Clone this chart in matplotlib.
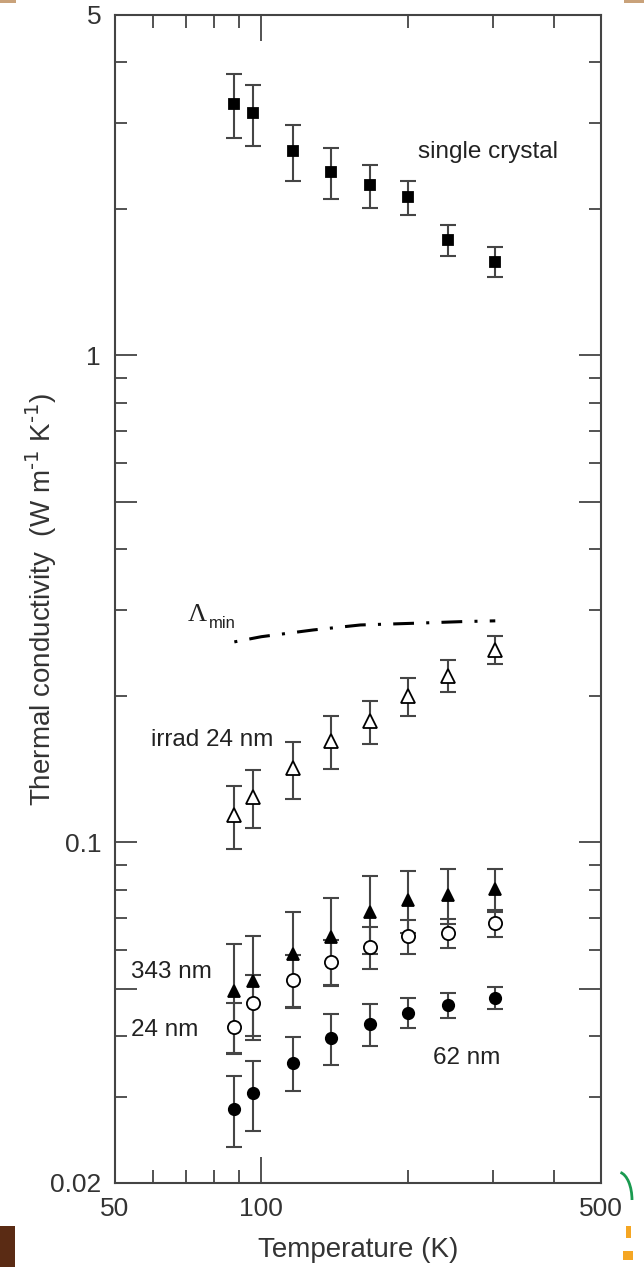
import matplotlib
matplotlib.use('Agg')
import matplotlib.pyplot as plt
from matplotlib.ticker import FixedLocator, FixedFormatter, NullFormatter
from matplotlib.patches import Rectangle, Arc

plt.rcParams['font.family'] = ['Liberation Sans', 'DejaVu Sans']
plt.rcParams['mathtext.default'] = 'regular'

# Measurement temperatures (K)
temperature = [88, 96, 116, 139, 167, 200, 242, 303]

# Thermal conductivity (W m^-1 K^-1) and uncertainties
k_single = [3.29, 3.14, 2.63, 2.38, 2.235, 2.11, 1.726, 1.557]
err_single = [0.50, 0.45, 0.345, 0.29, 0.225, 0.17, 0.125, 0.11]

k_irrad = [0.1138, 0.1241, 0.1419, 0.1617, 0.1775, 0.1998, 0.2199, 0.2484]
err_irrad = [0.017, 0.017, 0.019, 0.020, 0.018, 0.018, 0.0165, 0.0165]

k_343 = [0.0494, 0.0518, 0.0589, 0.0638, 0.0721, 0.0762, 0.0780, 0.0801]
err_343 = [0.0125, 0.0125, 0.013, 0.013, 0.013, 0.011, 0.010, 0.008]

k_24 = [0.0418, 0.0467, 0.0522, 0.0569, 0.0609, 0.0642, 0.0652, 0.0682]
err_24 = [0.005, 0.0066, 0.0065, 0.006, 0.006, 0.0052, 0.0045, 0.0043]

k_62 = [0.0284, 0.0305, 0.0353, 0.0397, 0.0424, 0.0447, 0.0463, 0.0480]
err_62 = [0.0047, 0.005, 0.0045, 0.0048, 0.0042, 0.0032, 0.0028, 0.0025]

# Minimum thermal conductivity curve
t_min = [88, 100, 128, 160, 205, 260, 303]
k_min = [0.258, 0.2644, 0.273, 0.2795, 0.2817, 0.284, 0.285]

W, H = 644, 1267
fig = plt.figure(figsize=(W / 100, H / 100), dpi=100)
ax = fig.add_axes([115 / W, 1 - 1182.7 / H, 486 / W, 1167.7 / H])
ax.set_xscale('log')
ax.set_yscale('log')
ax.set_xlim(50, 500)
ax.set_ylim(0.02, 5)

ebar = dict(fmt='none', ecolor='#454545', elinewidth=1.5, capsize=5.5,
            capthick=1.5, zorder=2)


def series(y, e, marker, ms, filled):
    ax.errorbar(temperature, y, yerr=e, **ebar)
    ax.plot(temperature, y, ls='none', marker=marker, ms=ms,
            mfc='black' if filled else 'white', mec='black', mew=1.3,
            zorder=3)


series(k_single, err_single, 's', 7.4, True)
series(k_irrad, err_irrad, '^', 9.5, False)
series(k_343, err_343, '^', 9.0, True)
series(k_24, err_24, 'o', 9.5, False)
series(k_62, err_62, 'o', 8.2, True)

ax.plot(t_min, k_min, color='black', lw=2.2,
        ls=(10.8, (6.8, 4.0, 1.0, 4.0)), zorder=2)

# Axis ticks
ax.xaxis.set_major_locator(FixedLocator([50, 100, 500]))
ax.xaxis.set_major_formatter(FixedFormatter(['50', '100', '500']))
ax.xaxis.set_minor_locator(FixedLocator([60, 70, 80, 90, 200, 300, 400]))
ax.xaxis.set_minor_formatter(NullFormatter())
ax.yaxis.set_major_locator(FixedLocator([0.02, 0.05, 0.1, 0.5, 1, 5]))
ax.yaxis.set_major_formatter(FixedFormatter(['0.02', '', '0.1', '', '1', '5']))
ax.yaxis.set_minor_locator(FixedLocator([0.03, 0.04, 0.06, 0.07, 0.08, 0.09,
                                         0.2, 0.3, 0.4, 0.6, 0.7, 0.8, 0.9,
                                         2, 3, 4]))
ax.yaxis.set_minor_formatter(NullFormatter())

ax.tick_params(which='both', direction='in', top=True, right=True,
               color='#444444', width=1.3, labelsize=19, labelcolor='#333333',
               pad=10)
ax.tick_params(axis='x', which='major', length=19)
ax.tick_params(axis='x', which='minor', length=9.5)
ax.tick_params(axis='y', which='major', length=16)
ax.tick_params(axis='y', which='minor', length=8.5)
for s in ax.spines.values():
    s.set_linewidth(1.5)
    s.set_color('#444444')

# Axis titles
fig.text(358 / W, 1 - 1250 / H, 'Temperature (K)', fontsize=20,
         color='#333333', ha='center', va='center')
fig.text(41 / W, 1 - 600 / H,
         r'Thermal conductivity  (W m$^{\text{-1}}$ K$^{\text{-1}}$)',
         fontsize=20, color='#333333', ha='center', va='center', rotation=90)

# Series annotations
txt = dict(fontsize=17.5, color='#222222', transform=ax.transAxes, va='center')
ax.text(0.6235, 0.8827, 'single crystal', ha='left', **txt)
ax.text(0.325, 0.3791, 'irrad 24 nm', ha='right', **txt)
ax.text(0.0323, 0.1807, '343 nm', ha='left', **txt)
ax.text(0.0323, 0.1308, '24 nm', ha='left', **txt)
ax.text(0.6543, 0.1068, '62 nm', ha='left', **txt)
ax.text(0.150, 0.4862, '\u039b', ha='left', va='center', fontsize=19,
        family='Liberation Serif', color='#222222', transform=ax.transAxes)
ax.text(0.1934, 0.4793, 'min', ha='left', va='center', fontsize=12,
        color='#222222', transform=ax.transAxes)

# Slide border remnants around the figure
fig.patches.append(Rectangle((0, 0), 15 / W, 41 / H, transform=fig.transFigure,
                             facecolor='#5a2b14', edgecolor='none'))
fig.patches.append(Rectangle((0, 1 - 3 / H), 16 / W, 3 / H,
                             transform=fig.transFigure, facecolor='#c9a27a',
                             edgecolor='none'))
fig.patches.append(Rectangle((624 / W, 1 - 3 / H), 20 / W, 3 / H,
                             transform=fig.transFigure, facecolor='#c9a27a',
                             edgecolor='none'))
fig.patches.append(Arc((618 / W, 1 - 1200 / H), 28 / W, 56 / H, theta1=0,
                       theta2=80, transform=fig.transFigure,
                       color='#1a9a50', lw=2))
fig.patches.append(Rectangle((626 / W, 1 - 1238 / H), 5 / W, 12 / H,
                             transform=fig.transFigure, facecolor='#f5a623',
                             edgecolor='none'))
fig.patches.append(Rectangle((623 / W, 1 - 1260 / H), 10 / W, 9 / H,
                             transform=fig.transFigure, facecolor='#f5a623',
                             edgecolor='none'))

fig.savefig('out.png', dpi=100)
